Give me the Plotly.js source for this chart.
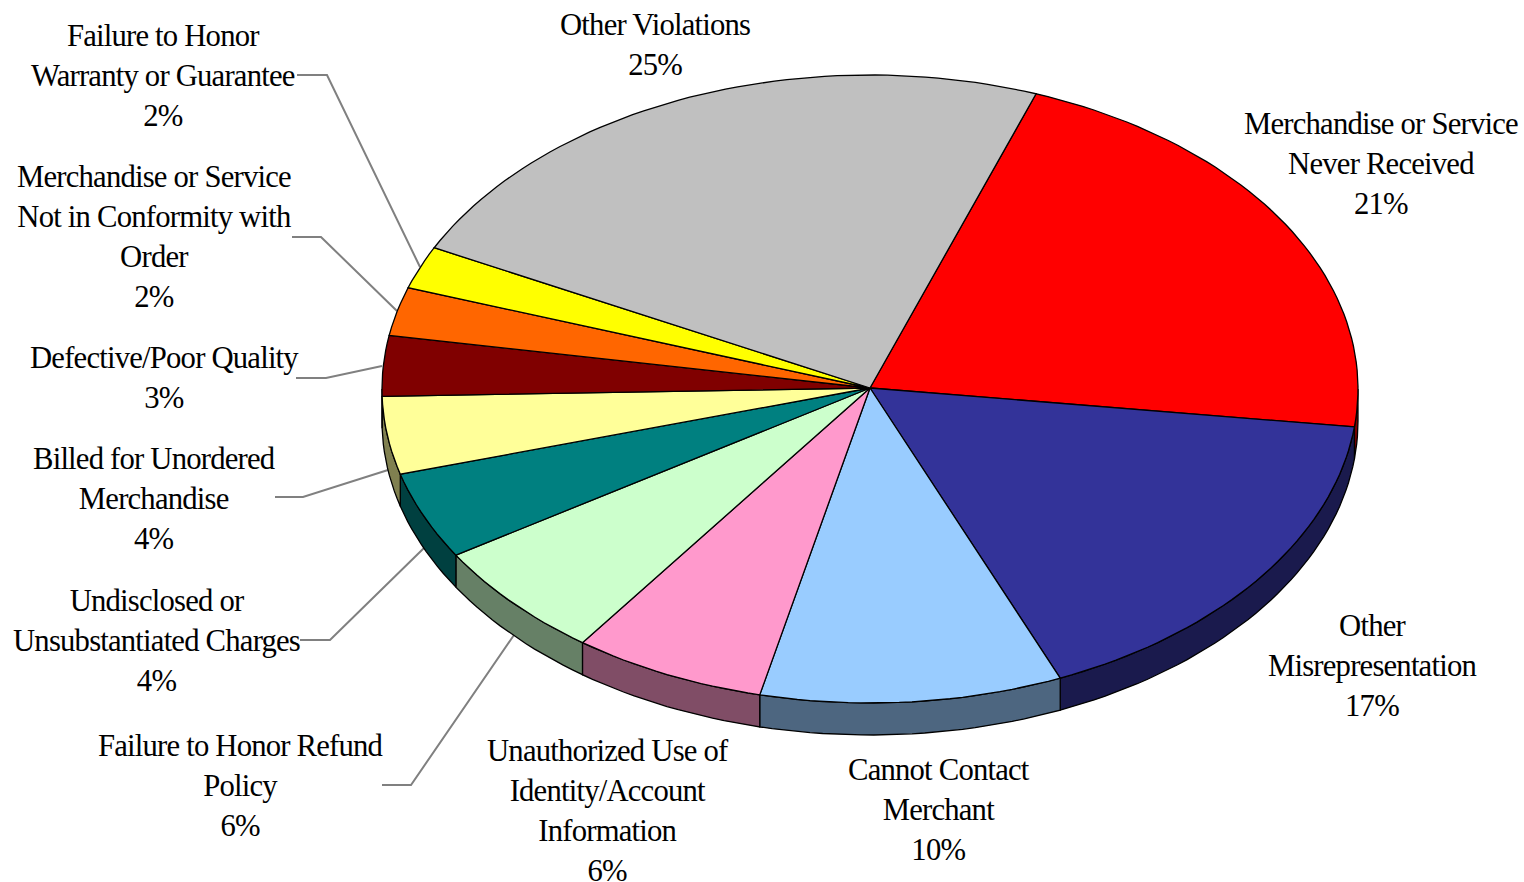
<!DOCTYPE html>
<html>
<head>
<meta charset="utf-8">
<script src="https://cdn.plot.ly/plotly-3.0.1.min.js"></script>
<style>
html,body{margin:0;padding:0;background:#fff}
#chart{width:1524px;height:882px}
.annotation-text{letter-spacing:-0.8px}
</style>
</head>
<body>
<div id="chart"></div>
<script>
// Slices, clockwise starting at the grey/red boundary
const categories = ["Merchandise or Service<br>Never Received","Other<br>Misrepresentation","Cannot Contact<br>Merchant","Unauthorized Use of<br>Identity/Account<br>Information","Failure to Honor Refund<br>Policy","Undisclosed or<br>Unsubstantiated Charges","Billed for Unordered<br>Merchandise","Defective/Poor Quality","Merchandise or Service<br>Not in Conformity with<br>Order","Failure to Honor<br>Warranty or Guarantee","Other Violations"];
const percentLabels = ["21%","17%","10%","6%","6%","4%","4%","3%","2%","2%","25%"];
// Share of the drawn ellipse
const drawnShares = [21.4,16.7,10.0,6.4,6.1,4.5,4.0,3.1,2.5,2.2,23.1];
const topColors = ["#FF0000","#333399","#99CCFF","#FF99CC","#CCFFCC","#008080","#FFFF99","#800000","#FF6600","#FFFF00","#C0C0C0"];
const wallColors = ["#800000","#1A1A4D","#4D6680","#804D66","#668066","#004040","#808050","#400000","#803300","#808000","#606060"];

// Layout of the drawing, in pixels of the page
const W=1524,H=882,CX=870,CY=389,RX=488,RY=314,DEPTH=32,START=19.9;
const labelAnchors = [[1381,164],[1372,666],[939,810],[608,811],[240,786],[156,641],[154,499],[164,378],[154,237],[163,76],[655,45]];
const leaders = {4:[[382,785],[411,785],[514,635]],5:[[300,640],[330,640],[424,548]],6:[[275,497],[303,497],[388,470]],7:[[296,378],[326,378],[382,366]],8:[[292,237],[321,237],[397,311]],9:[[297,75],[327,75],[420,267]]};

const total = drawnShares.reduce((a,b)=>a+b,0);
const pt = (deg,dy=0)=>{const r=deg*Math.PI/180;return [CX+RX*Math.sin(r),CY-RY*Math.cos(r)+dy];};
function arc(a0,a1,dy){const n=Math.max(2,Math.ceil(Math.abs(a1-a0)/1.5));const out=[];for(let i=0;i<=n;i++)out.push(pt(a0+(a1-a0)*i/n,dy));return out;}

const bounds=[START];drawnShares.forEach(v=>bounds.push(bounds[bounds.length-1]+v/total*360));

const walls=[],tops=[],lines=[];
drawnShares.forEach((v,i)=>{
  const a0=bounds[i],a1=bounds[i+1];
  const w0=Math.max(a0,90),w1=Math.min(a1,270);
  if(w1>w0){
    const p=arc(w0,w1,0).concat(arc(w1,w0,DEPTH));p.push(p[0]);
    walls.push({type:'scatter',mode:'lines',x:p.map(q=>q[0]),y:p.map(q=>q[1]),fill:'toself',fillcolor:wallColors[i],line:{color:'#000',width:1.3},hoverinfo:'skip',showlegend:false});
  }
  const p=[[CX,CY-1]].concat(arc(a0,a1,0));p.push([CX,CY-1]);
  tops.push({type:'scatter',mode:'lines',name:categories[i].replace(/<br>/g,' '),x:p.map(q=>q[0]),y:p.map(q=>q[1]),fill:'toself',fillcolor:topColors[i],line:{color:'#000',width:1.3},hoverinfo:'name',showlegend:false});
  if(leaders[i]){
    const l=leaders[i];
    lines.push({type:'scatter',mode:'lines',x:l.map(q=>q[0]),y:l.map(q=>q[1]),line:{color:'#808080',width:2},hoverinfo:'skip',showlegend:false});
  }
});

const annotations=categories.map((c,i)=>({
  x:labelAnchors[i][0],y:labelAnchors[i][1],xref:'x',yref:'y',
  text:c+'<br>'+percentLabels[i],showarrow:false,xanchor:'center',yanchor:'middle',align:'center',
  font:{family:'"Liberation Serif",serif',size:30.7,color:'#000'},borderpad:0
}));

Plotly.newPlot('chart',lines.concat(walls,tops),{
  width:W,height:H,margin:{l:0,r:0,t:0,b:0},paper_bgcolor:'#fff',plot_bgcolor:'#fff',showlegend:false,
  xaxis:{range:[0,W],visible:false,fixedrange:true},
  yaxis:{range:[H,0],visible:false,fixedrange:true},
  annotations:annotations
},{displayModeBar:false,staticPlot:true});
</script>
</body>
</html>
